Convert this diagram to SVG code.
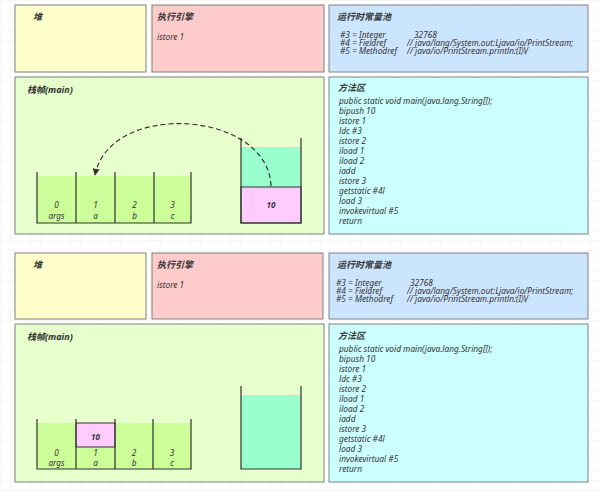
<svg xmlns="http://www.w3.org/2000/svg" width="600" height="492" viewBox="0 0 600 492">
  <style>
    .box { stroke: #808080; stroke-width: 1; }
    .heap { fill: #ffffcc; }
    .engine { fill: #ffcccc; }
    .pool { fill: #cce5ff; }
    .frame { fill: #e6ffcc; }
    .method { fill: #ccffff; }
    .title { font-family: "Noto Sans", "Noto Sans CJK SC", sans-serif; font-size: 9px; font-weight: bold; font-style: italic; fill: #333; }
    .txt { font-family: "Noto Sans", "Noto Sans CJK SC", sans-serif; font-size: 8.3px; font-style: italic; fill: #333; }
    .lbl { font-family: "Noto Sans", sans-serif; font-size: 8.2px; font-style: italic; fill: #333; text-anchor: middle; }
    .val { font-family: "Noto Sans", sans-serif; font-size: 8px; font-weight: bold; font-style: italic; fill: #333; text-anchor: middle; }
    .slot { fill: #ccff99; }
    .opnd { fill: #99ffcc; }
    .pink { fill: #ffccff; stroke: #333; stroke-width: 1; }
    .wall { fill: none; stroke: #333; stroke-width: 1.2; }
    .dash { fill: none; stroke: #333; stroke-width: 1.2; stroke-dasharray: 5 3; }
  </style>
  <defs>
    <pattern id="grid" width="10" height="10" patternUnits="userSpaceOnUse">
      <path d="M10 0 L0 0 L0 10" fill="none" stroke="#efefef" stroke-width="1"/>
    </pattern>
    <marker id="arrow" viewBox="0 0 10 10" refX="9" refY="5" markerWidth="7" markerHeight="7" markerUnits="userSpaceOnUse" orient="auto">
      <path d="M0 0 L10 5 L0 10 Z" fill="#333"/>
    </marker>
  </defs>

  <rect width="600" height="492" fill="#ffffff"/>
  <rect width="600" height="492" fill="url(#grid)"/>

  <!-- ===== upper state ===== -->
  <g id="heap-1">
    <rect class="box heap" x="15" y="5" width="131" height="67"/>
    <text class="title" x="33" y="20">堆</text>
  </g>
  <g id="engine-1">
    <rect class="box engine" x="152" y="5" width="172" height="67"/>
    <text class="title" x="157" y="20">执行引擎</text>
    <text class="txt" x="157" y="40">istore 1</text>
  </g>
  <g id="pool-1">
    <rect class="box pool" x="329" y="5" width="259" height="67"/>
    <text class="title" x="337" y="20">运行时常量池</text>
    <text class="txt" x="340" y="38">#3 = Integer</text>
    <text class="txt" x="414" y="38">32768</text>
    <text class="txt" x="340" y="46">#4 = Fieldref</text>
    <text class="txt" x="407" y="46">// java/lang/System.out:Ljava/io/PrintStream;</text>
    <text class="txt" x="340" y="54">#5 = Methodref</text>
    <text class="txt" x="407" y="54">// java/io/PrintStream.println:(I)V</text>
  </g>
  <g id="frame-1">
    <rect class="box frame" x="15" y="77" width="309" height="157"/>
    <text class="title" x="27" y="93">栈帧(main)</text>
    <!-- local variable table -->
    <rect class="slot" x="37" y="176" width="154" height="47"/>
    <path class="wall" d="M37 172 V223 H191 V172 M76 172 V223 M115 172 V223 M154 172 V223"/>
    <text class="lbl" x="56.5" y="208">0</text><text class="lbl" x="56.5" y="219">args</text>
    <text class="lbl" x="95.5" y="208">1</text><text class="lbl" x="95.5" y="219">a</text>
    <text class="lbl" x="134.5" y="208">2</text><text class="lbl" x="134.5" y="219">b</text>
    <text class="lbl" x="172.5" y="208">3</text><text class="lbl" x="172.5" y="219">c</text>
    <!-- operand stack -->
    <rect class="opnd" x="241" y="147" width="60" height="40"/>
    <rect class="pink" x="241" y="187" width="60" height="36"/>
    <path class="wall" d="M241 138 V223 H301 V138"/>
    <text class="val" x="271" y="208">10</text>
  </g>
  <g id="method-1">
    <rect class="box method" x="329" y="77" width="259" height="157"/>
    <text class="title" x="338" y="91">方法区</text>
    <text class="txt" x="339" y="104">public static void main(java.lang.String[]);</text>
    <text class="txt" x="339" y="114">bipush 10</text>
    <text class="txt" x="339" y="124">istore 1</text>
    <text class="txt" x="339" y="134">ldc #3</text>
    <text class="txt" x="339" y="144">istore 2</text>
    <text class="txt" x="339" y="154">iload 1</text>
    <text class="txt" x="339" y="164">iload 2</text>
    <text class="txt" x="339" y="174">iadd</text>
    <text class="txt" x="339" y="184">istore 3</text>
    <text class="txt" x="339" y="194">getstatic #4l</text>
    <text class="txt" x="339" y="204">load 3</text>
    <text class="txt" x="339" y="214">invokevirtual #5</text>
    <text class="txt" x="339" y="224">return</text>
  </g>

  <g id="connectors">
    <path class="dash" d="M271 186 C268 110, 110 100, 95 175" marker-end="url(#arrow)"/>
  </g>

  <!-- ===== lower state ===== -->
  <g id="heap-2">
    <rect class="box heap" x="15" y="253" width="131" height="66"/>
    <text class="title" x="33" y="268">堆</text>
  </g>
  <g id="engine-2">
    <rect class="box engine" x="152" y="253" width="171" height="66"/>
    <text class="title" x="157" y="268">执行引擎</text>
    <text class="txt" x="157" y="288">istore 1</text>
  </g>
  <g id="pool-2">
    <rect class="box pool" x="329" y="253" width="259" height="66"/>
    <text class="title" x="337" y="268">运行时常量池</text>
    <text class="txt" x="336" y="286">#3 = Integer</text>
    <text class="txt" x="410" y="286">32768</text>
    <text class="txt" x="336" y="294">#4 = Fieldref</text>
    <text class="txt" x="407" y="294">// java/lang/System.out:Ljava/io/PrintStream;</text>
    <text class="txt" x="336" y="302">#5 = Methodref</text>
    <text class="txt" x="407" y="302">// java/io/PrintStream.println:(I)V</text>
  </g>
  <g id="frame-2">
    <rect class="box frame" x="15" y="324" width="309" height="158"/>
    <text class="title" x="27" y="340">栈帧(main)</text>
    <!-- local variable table -->
    <rect class="slot" x="37" y="423" width="154" height="46"/>
    <rect class="pink" x="76" y="423" width="39" height="24"/>
    <path class="wall" d="M37 419 V469 H191 V419 M76 419 V469 M115 419 V469 M153 419 V469"/>
    <text class="val" x="95.5" y="440">10</text>
    <text class="lbl" x="56.5" y="456">0</text><text class="lbl" x="56.5" y="466">args</text>
    <text class="lbl" x="95.5" y="456">1</text><text class="lbl" x="95.5" y="466">a</text>
    <text class="lbl" x="134" y="456">2</text><text class="lbl" x="134" y="466">b</text>
    <text class="lbl" x="172" y="456">3</text><text class="lbl" x="172" y="466">c</text>
    <!-- operand stack -->
    <rect class="opnd" x="241" y="395" width="60" height="74"/>
    <path class="wall" d="M241 386 V469 H301 V386"/>
  </g>
  <g id="method-2">
    <rect class="box method" x="329" y="324" width="259" height="158"/>
    <text class="title" x="338" y="339">方法区</text>
    <text class="txt" x="339" y="352">public static void main(java.lang.String[]);</text>
    <text class="txt" x="339" y="362">bipush 10</text>
    <text class="txt" x="339" y="372">istore 1</text>
    <text class="txt" x="339" y="382">ldc #3</text>
    <text class="txt" x="339" y="392">istore 2</text>
    <text class="txt" x="339" y="402">iload 1</text>
    <text class="txt" x="339" y="412">iload 2</text>
    <text class="txt" x="339" y="422">iadd</text>
    <text class="txt" x="339" y="432">istore 3</text>
    <text class="txt" x="339" y="442">getstatic #4l</text>
    <text class="txt" x="339" y="452">load 3</text>
    <text class="txt" x="339" y="462">invokevirtual #5</text>
    <text class="txt" x="339" y="472">return</text>
  </g>
</svg>
